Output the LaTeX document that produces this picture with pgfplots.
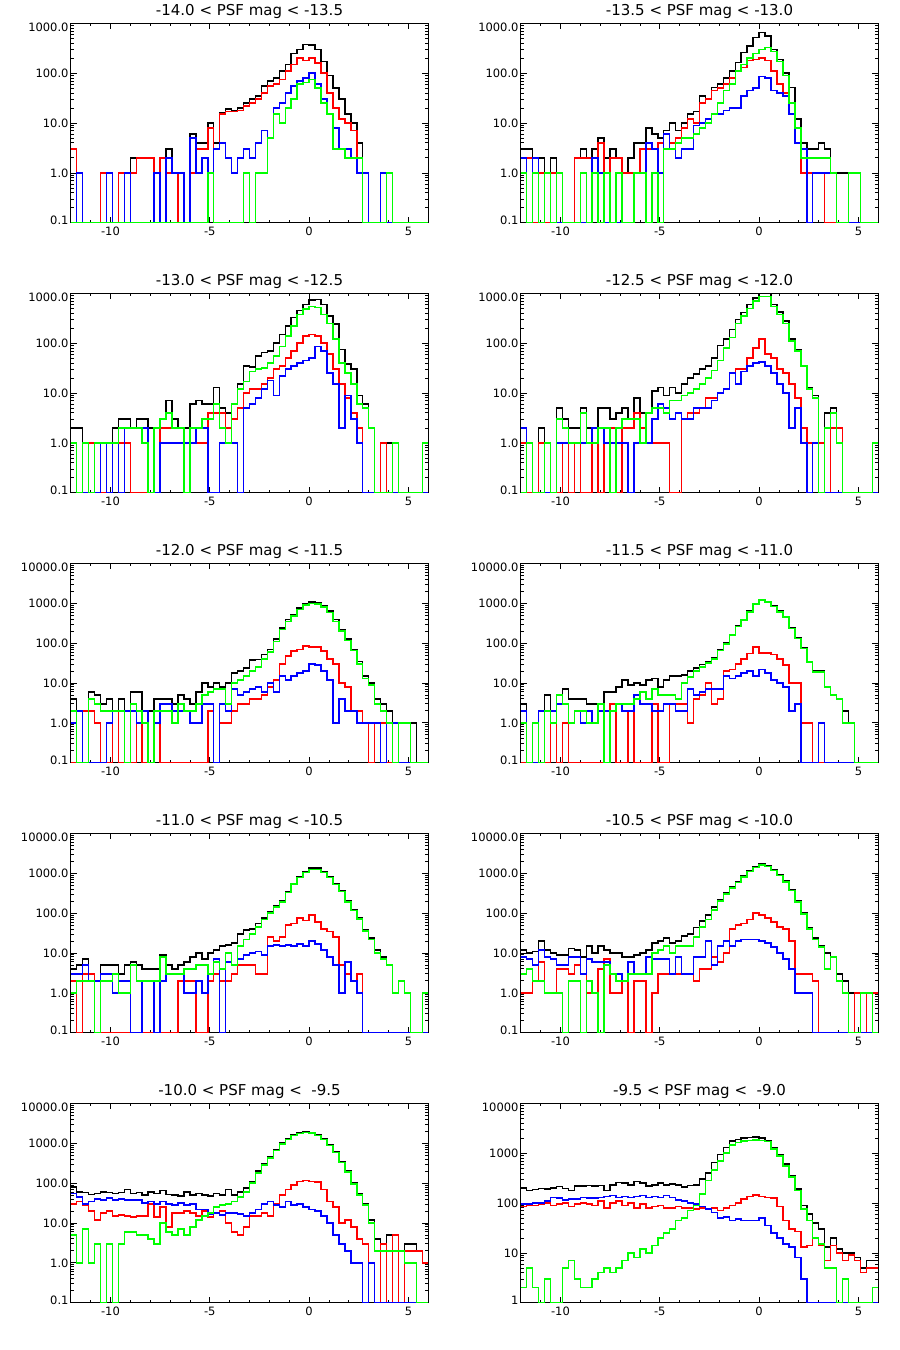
\documentclass[border=0pt]{standalone}
\usepackage{fontspec}
\setmainfont{DejaVu Sans}
\usepackage{pgfplots}
\usepackage{pgfplotstable}
\pgfplotsset{compat=1.18}
\definecolor{hred}{rgb}{1,0,0}
\definecolor{hblue}{rgb}{0,0,1}
\definecolor{hgreen}{rgb}{0,1,0}
\newcommand{\lowlab}[1]{\raisebox{2pt}[\height][\depth]{#1}}
\newcommand{\toplab}[1]{\raisebox{-4pt}[\height][\depth]{#1}}
\newcommand{\panel}[4]{%
\begin{axis}[scale only axis, width=357.6pt, height=199.4pt,
  xmin=-12, xmax=6, ymode=log, clip=false, anchor=north west,
  at={#2}, title={#3},
  xtick={-10,-5,0,5}, xticklabels={-10,-5,0,5},
  minor xtick={-12,-11,-9,-8,-7,-6,-4,-3,-2,-1,1,2,3,4,6},
  tick align=inside, tick pos=both,
  major tick length=6pt, minor tick length=3pt,
  axis line style={line width=0.9pt},
  tick style={black, line width=0.7pt},
  tick label style={font=\fontsize{11.5}{13}\selectfont},
  yticklabel style={inner sep=0pt, xshift=-2pt},
  xticklabel style={inner sep=0pt, yshift=-4pt},
  title style={font=\fontsize{15}{17}\selectfont, yshift=-5pt},
  #1]
\addplot[black, const plot mark left, mark=none, line width=1.5pt] table[x=x,y=k]{#4};
\addplot[hred, const plot mark left, mark=none, line width=1.5pt] table[x=x,y=r]{#4};
\addplot[hblue, const plot mark left, mark=none, line width=1.5pt] table[x=x,y=b]{#4};
\addplot[hgreen, const plot mark left, mark=none, line width=1.5pt] table[x=x,y=g]{#4};
\end{axis}}

\pgfplotstableread{
x k r b g
-12 3 3 0.1 0.1
-11.7 1 0.1 1 0.1
-11.4 0.1 0.1 0.1 0.1
-11.1 0.1 0.1 0.1 0.1
-10.8 0.1 0.1 0.1 0.1
-10.5 1 1 0.1 0.1
-10.2 1 0.1 1 0.1
-9.9 0.1 0.1 0.1 0.1
-9.6 1 1 0.1 0.1
-9.3 1 1 1 0.1
-9 2 1 0.1 0.1
-8.7 2 2 0.1 0.1
-8.4 2 2 0.1 0.1
-8.1 2 2 0.1 0.1
-7.8 1 0.1 1 0.1
-7.5 2 2 0.1 0.1
-7.2 3 1 2 0.1
-6.9 1 1 1 0.1
-6.6 1 0.1 1 0.1
-6.3 0.1 0.1 0.1 0.1
-6 6 1 5 0.1
-5.7 4 3 1 0.1
-5.4 4 3 2 0.1
-5.1 10 8 1 1
-4.8 4 3 3 0.1
-4.5 16 15 4 0.1
-4.2 19 17 2 0.1
-3.9 18 17 1 0.1
-3.6 20 18 2 0.1
-3.3 25 22 3 1
-3 30 25 2 0.1
-2.7 35 30 4 1
-2.4 55 40 7 1
-2.1 70 55 5 5
-1.8 80 60 20 15
-1.5 110 75 25 10
-1.2 150 110 40 20
-0.9 250 150 55 30
-0.6 300 200 70 60
-0.3 380 180 80 65
0 370 200 100 75
0.3 300 160 60 50
0.6 170 100 30 25
0.9 90 40 15 15
1.2 50 20 8 3
1.5 30 12 3 3
1.8 15 10 3 2
2.1 10 7 2 2
2.4 4 2 1 2
2.7 1 0.1 1 0.1
3 0.1 0.1 0.1 0.1
3.3 0.1 0.1 0.1 0.1
3.6 1 0.1 1 0.1
3.9 1 0.1 0.1 1
4.2 0.1 0.1 0.1 0.1
4.5 0.1 0.1 0.1 0.1
4.8 0.1 0.1 0.1 0.1
5.1 0.1 0.1 0.1 0.1
5.4 0.1 0.1 0.1 0.1
5.7 0.1 0.1 0.1 0.1
6 0.1 0.1 0.1 0.1
}\tA

\pgfplotstableread{
x k r b g
-12 3 1 2 1
-11.7 3 2 0.1 0.1
-11.4 2 0.1 2 1
-11.1 2 1 0.1 0.1
-10.8 1 0.1 1 1
-10.5 2 1 0.1 0.1
-10.2 1 1 0.1 1
-9.9 0.1 0.1 0.1 0.1
-9.6 0.1 0.1 0.1 0.1
-9.3 2 2 0.1 0.1
-9 3 2 0.1 1
-8.7 2 2 0.1 0.1
-8.4 3 2 2 1
-8.1 5 4 1 0.1
-7.8 2 0.1 0.1 1
-7.5 3 2 0.1 0.1
-7.2 2 2 0.1 1
-6.9 1 1 0.1 0.1
-6.6 2 1 0.1 0.1
-6.3 4 1 1 1
-6 4 3 1 1
-5.7 8 3 4 0.1
-5.4 6 3 3 1
-5.1 5 4 1 0.1
-4.8 7 3 6 3
-4.5 10 4 3 3
-4.2 7 5 2 4
-3.9 10 8 3 5
-3.6 15 12 3 5
-3.3 17 10 9 6
-3 35 25 10 8
-2.7 30 30 12 10
-2.4 52 45 15 15
-2.1 60 50 15 25
-1.8 80 60 18 45
-1.5 110 80 20 60
-1.2 165 110 20 110
-0.9 260 130 35 150
-0.6 350 180 45 200
-0.3 520 190 50 250
0 650 200 85 300
0.3 560 180 80 330
0.6 300 110 45 270
0.9 190 60 40 170
1.2 100 40 35 90
1.5 52 15 15 25
1.8 12 8 4 8
2.1 4 1 3 2
2.4 3 1 0.1 2
2.7 3 1 1 2
3 4 1 1 2
3.3 3 0.1 1 2
3.6 1 0.1 1 1
3.9 1 0.1 0.1 0.1
4.2 1 0.1 0.1 0.1
4.5 1 0.1 0.1 1
4.8 1 0.1 0.1 1
5.1 0.1 0.1 0.1 0.1
5.4 0.1 0.1 0.1 0.1
5.7 0.1 0.1 0.1 0.1
6 0.1 0.1 0.1 0.1
}\tB

\pgfplotstableread{
x k r b g
-12 2 1 1 1
-11.7 2 0.1 0.1 0.1
-11.4 1 0.1 0.1 1
-11.1 1 1 0.1 0.1
-10.8 1 0.1 0.1 1
-10.5 1 0.1 1 1
-10.2 1 1 0.1 1
-9.9 2 1 1 1
-9.6 3 1 0.1 2
-9.3 3 1 2 2
-9 2 0.1 2 2
-8.7 3 0.1 2 2
-8.4 3 0.1 2 1
-8.1 2 0.1 0.1 0.1
-7.8 2 0.1 0.1 2
-7.5 3 2 1 3
-7.2 7 2 1 4
-6.9 3 2 1 2
-6.6 2 2 1 2
-6.3 2 0.1 1 0.1
-6 6 1 1 2
-5.7 7 1 2 2
-5.4 6 1 2 3
-5.1 6 4 0.1 3
-4.8 13 4 0.1 6
-4.5 5 4 1 2
-4.2 4 2 1 1
-3.9 6 3 1 6
-3.6 15 5 0.1 12
-3.3 35 10 5 17
-3 33 12 6 27
-2.7 55 12 8 30
-2.4 65 15 12 32
-2.1 70 20 18 40
-1.8 100 30 9 55
-1.5 150 35 22 85
-1.2 220 50 30 140
-0.9 330 70 35 220
-0.6 450 100 40 380
-0.3 600 140 45 480
0 740 150 50 550
0.3 760 140 85 520
0.6 600 100 70 380
0.9 350 60 25 250
1.2 240 30 15 120
1.5 75 15 2 40
1.8 38 8 9 25
2.1 30 4 3 15
2.4 9 2 1 6
2.7 6 0.1 0.1 5
3 2 0.1 0.1 2
3.3 0.1 0.1 0.1 0.1
3.6 1 1 0.1 0.1
3.9 1 0.1 0.1 0.1
4.2 1 0.1 0.1 1
4.5 0.1 0.1 0.1 0.1
4.8 0.1 0.1 0.1 0.1
5.1 0.1 0.1 0.1 0.1
5.4 0.1 0.1 0.1 0.1
5.7 1 0.1 0.1 1
6 1 0.1 0.1 1
}\tC

\pgfplotstableread{
x k r b g
-12 2 1 2 0.1
-11.7 1 0.1 1 1
-11.4 0.1 0.1 0.1 0.1
-11.1 2 1 0.1 0.1
-10.8 1 1 0.1 1
-10.5 0.1 0.1 0.1 0.1
-10.2 5 0.1 1 3
-9.9 3 1 1 2
-9.6 2 0.1 1 1
-9.3 2 1 1 1
-9 5 0.1 1 4
-8.7 2 0.1 1 1
-8.4 2 1 2 1
-8.1 5 0.1 2 2
-7.8 5 1 1 2
-7.5 3 2 1 0.1
-7.2 4 0.1 1 2
-6.9 5 2 1 3
-6.6 3 2 0.1 3
-6.3 8 4 1 3
-6 4 2 1 1
-5.7 4 1 1 4
-5.4 11 1 3 5
-5.1 13 1 6 5
-4.8 9 1 5 4
-4.5 13 0.1 3 7
-4.2 10 0.1 4 7
-3.9 15 3 3 9
-3.6 20 4 3 10
-3.3 24 4 5 12
-3 30 5 5 15
-2.7 35 8 5 20
-2.4 50 8 7 28
-2.1 90 10 10 45
-1.8 120 12 12 80
-1.5 190 25 25 130
-1.2 300 30 15 250
-0.9 410 30 27 350
-0.6 600 50 35 500
-0.3 800 80 40 700
0 980 120 42 870
0.3 980 60 35 870
0.6 600 50 25 550
0.9 420 30 15 380
1.2 280 25 10 250
1.5 120 15 2 110
1.8 75 8 5 70
2.1 36 2 1 35
2.4 13 1 0.1 12
2.7 9 1 1 8
3 1 1 0.1 0.1
3.3 4 0.1 0.1 2
3.6 5 2 0.1 4
3.9 2 2 0.1 1
4.2 0.1 0.1 0.1 0.1
4.5 0.1 0.1 0.1 0.1
4.8 0.1 0.1 0.1 0.1
5.1 0.1 0.1 0.1 0.1
5.4 0.1 0.1 0.1 0.1
5.7 1 0.1 0.1 1
6 1 0.1 0.1 1
}\tD

\pgfplotstableread{
x k r b g
-12 4 0.1 1 2
-11.7 2 2 2 0.1
-11.4 2 2 0.1 0.1
-11.1 6 2 0.1 4
-10.8 5 1 0.1 3
-10.5 3 0.1 0.1 2
-10.2 4 0.1 1 2
-9.9 2 2 2 2
-9.6 4 0.1 2 2
-9.3 2 2 2 0.1
-9 6 0.1 2 3
-8.7 6 2 1 2
-8.4 2 0.1 2 1
-8.1 2 0.1 0.1 0.1
-7.8 4 2 1 2
-7.5 4 0.1 3 2
-7.2 4 0.1 3 2
-6.9 3 0.1 2 1
-6.6 5 0.1 2 3
-6.3 4 0.1 2 2
-6 3 0.1 1 2
-5.7 6 0.1 1 3
-5.4 10 0.1 3 5
-5.1 8 2 3 6
-4.8 10 0.1 0.1 7
-4.5 8 1 3 7
-4.2 10 1 2 3
-3.9 18 2 7 10
-3.6 20 3 5 12
-3.3 24 3 6 15
-3 38 4 7 20
-2.7 39 4 8 25
-2.4 52 5 6 40
-2.1 70 8 10 60
-1.8 125 12 6 110
-1.5 240 30 15 220
-1.2 390 47 12 350
-0.9 520 63 15 480
-0.6 760 70 18 700
-0.3 980 85 20 900
0 1070 80 30 980
0.3 1050 80 28 950
0.6 850 63 20 800
0.9 630 40 12 580
1.2 390 30 1 350
1.5 220 10 4 200
1.8 125 8 2 115
2.1 70 2 2 65
2.4 35 2 1 30
2.7 15 1 1 13
3 10 0.1 1 9
3.3 4 1 1 3
3.6 3 1 0.1 2
3.9 2 0.1 1 1
4.2 1 0.1 1 0.1
4.5 1 0.1 0.1 1
4.8 1 0.1 0.1 1
5.1 1 0.1 0.1 0.1
5.4 0.1 0.1 0.1 0.1
5.7 0.1 0.1 0.1 0.1
6 0.1 0.1 0.1 0.1
}\tE

\pgfplotstableread{
x k r b g
-12 3 0.1 2 1
-11.7 0.1 0.1 0.1 0.1
-11.4 1 0.1 0.1 1
-11.1 2 0.1 2 0.1
-10.8 5 0.1 2 2
-10.5 2 1 2 1
-10.2 5 0.1 3 5
-9.9 7 1 3 3
-9.6 4 0.1 1 1
-9.3 4 0.1 2 2
-9 4 0.1 1 2
-8.7 3 0.1 2 1
-8.4 3 0.1 1 1
-8.1 3 0.1 2 3
-7.8 6 0.1 2 0.1
-7.5 6 3 2 2
-7.2 8 0.1 3 3
-6.9 12 0.1 2 3
-6.6 9 2 2 3
-6.3 10 0.1 5 4
-6 9 0.1 3 6
-5.7 12 0.1 3 4
-5.4 13 3 2 7
-5.1 8 0.1 2 5
-4.8 12 0.1 3 5
-4.5 15 3 3 5
-4.2 15 3 2 4
-3.9 16 3 2 10
-3.6 20 1 7 14
-3.3 24 4 5 20
-3 29 5 6 25
-2.7 35 10 7 32
-2.4 43 3 7 40
-2.1 70 4 7 65
-1.8 100 20 15 95
-1.5 165 22 13 160
-1.2 270 30 15 260
-0.9 390 40 18 380
-0.6 630 55 20 610
-0.3 980 80 15 950
0 1230 57 22 1200
0.3 1100 57 18 1080
0.6 850 52 12 830
0.9 630 40 10 610
1.2 460 28 8 450
1.5 240 10 2 235
1.8 135 10 3 130
2.1 76 1 0.1 74
2.4 35 1 0.1 34
2.7 20 0.1 0.1 19
3 20 0.1 1 19
3.3 8 0.1 0.1 8
3.6 5 0.1 0.1 5
3.9 4 0.1 0.1 4
4.2 2 0.1 0.1 1
4.5 1 0.1 0.1 1
4.8 0.1 0.1 0.1 0.1
5.1 0.1 0.1 0.1 0.1
5.4 0.1 0.1 0.1 0.1
5.7 0.1 0.1 0.1 0.1
6 0.1 0.1 0.1 0.1
}\tF

\pgfplotstableread{
x k r b g
-12 4 2 3 1
-11.7 5 0.1 3 2
-11.4 7 3 5 2
-11.1 3 3 2 2
-10.8 2 0.1 2 0.1
-10.5 5 0.1 3 2
-10.2 5 0.1 3 2
-9.9 5 0.1 1 3
-9.6 3 0.1 2 1
-9.3 5 0.1 2 1
-9 6 0.1 0.1 5
-8.7 5 0.1 0.1 2
-8.4 4 0.1 2 2
-8.1 4 0.1 2 2
-7.8 4 0.1 0.1 2
-7.5 9 0.1 2 8
-7.2 5 0.1 3 3
-6.9 4 0.1 3 3
-6.6 5 2 3 3
-6.3 6 2 1 4
-6 8 2 1 4
-5.7 10 0.1 2 5
-5.4 7 0.1 1 5
-5.1 10 2 3 3
-4.8 12 3 7 6
-4.5 15 2 0.1 4
-4.2 16 2 6 10
-3.9 18 3 5 5
-3.6 30 5 7 15
-3.3 38 5 9 22
-3 40 5 10 30
-2.7 55 3 11 45
-2.4 75 3 9 70
-2.1 110 25 15 100
-1.8 150 20 16 140
-1.5 200 25 15 190
-1.2 350 50 16 330
-0.9 550 55 15 530
-0.6 800 75 17 780
-0.3 1100 65 15 1050
0 1350 90 20 1250
0.3 1350 60 17 1250
0.6 1100 40 12 1050
0.9 800 35 8 780
1.2 550 25 5 520
1.5 370 5 1 350
1.8 200 3 6 190
2.1 120 2 2 115
2.4 75 3 1 72
2.7 38 0.1 0.1 36
3 24 0.1 0.1 22
3.3 12 0.1 0.1 10
3.6 8 0.1 0.1 7
3.9 5 0.1 0.1 5
4.2 1 0.1 0.1 1
4.5 2 0.1 0.1 2
4.8 1 0.1 0.1 1
5.1 0.1 0.1 0.1 0.1
5.4 0.1 0.1 0.1 0.1
5.7 1 0.1 0.1 1
6 1 0.1 0.1 1
}\tG

\pgfplotstableread{
x k r b g
-12 12 1 8 3
-11.7 10 1 7 4
-11.4 11 2 5 2
-11.1 20 6 12 2
-10.8 12 1 8 1
-10.5 10 1 7 1
-10.2 9 4 5 1
-9.9 9 4 5 0.1
-9.6 13 3 8 2
-9.3 12 5 8 2
-9 8 3 3 0.1
-8.7 15 1 7 2
-8.4 10 1 6 1
-8.1 15 4 6 0.1
-7.8 12 7 6 5
-7.5 10 1 3 3
-7.2 10 1 3 2
-6.9 8 2 2 2
-6.6 8 0.1 6 3
-6.3 9 2 3 3
-6 10 2 3 3
-5.7 12 0.1 8 3
-5.4 18 1 7 10
-5.1 20 3 7 12
-4.8 24 3 7 15
-4.5 18 3 3 10
-4.2 20 3 8 15
-3.9 27 3 3 15
-3.6 30 3 3 15
-3.3 43 2 8 25
-3 63 4 8 45
-2.7 90 4 20 70
-2.4 140 8 5 120
-2.1 220 6 15 200
-1.8 320 10 20 300
-1.5 450 40 15 420
-1.2 620 50 20 590
-0.9 850 55 22 810
-0.6 1150 70 22 1100
-0.3 1450 100 22 1400
0 1700 90 20 1600
0.3 1550 75 18 1470
0.6 1230 60 14 1170
0.9 930 45 10 880
1.2 630 40 7 600
1.5 390 20 4 370
1.8 200 3 1 190
2.1 100 3 1 95
2.4 43 3 1 40
2.7 24 2 0.1 22
3 15 0.1 0.1 14
3.3 10 0.1 0.1 4
3.6 8 0.1 0.1 8
3.9 3 0.1 0.1 2
4.2 2 0.1 0.1 1
4.5 1 0.1 0.1 0.1
4.8 1 1 0.1 0.1
5.1 1 0.1 0.1 1
5.4 1 1 0.1 1
5.7 1 1 0.1 0.1
6 1 1 0.1 0.1
}\tH

\pgfplotstableread{
x k r b g
-12 80 30 55 5
-11.7 60 35 45 1
-11.4 58 28 30 7
-11.1 52 20 35 1
-10.8 55 12 40 3
-10.5 60 18 38 0.1
-10.2 58 20 42 3
-9.9 55 15 38 0.1
-9.6 58 16 40 3
-9.3 70 15 38 6
-9 55 14 38 6
-8.7 58 15 38 5
-8.4 50 15 32 5
-8.1 60 30 35 4
-7.8 55 14 30 3
-7.5 65 25 35 10
-7.2 52 8 30 6
-6.9 50 18 28 5
-6.6 48 18 32 7
-6.3 60 20 28 5
-6 50 18 30 8
-5.7 55 15 22 12
-5.4 50 20 22 15
-5.1 48 14 17 18
-4.8 55 18 18 25
-4.5 50 20 16 28
-4.2 70 10 18 30
-3.9 50 6 18 35
-3.6 60 5 17 45
-3.3 75 8 15 60
-3 110 15 18 100
-2.7 200 15 22 180
-2.4 300 18 30 280
-2.1 450 15 35 420
-1.8 700 30 28 660
-1.5 1000 50 25 960
-1.2 1300 70 35 1250
-0.9 1600 90 28 1550
-0.6 1800 110 30 1750
-0.3 1900 115 25 1850
0 1850 110 22 1800
0.3 1600 105 20 1550
0.6 1300 70 15 1250
0.9 900 35 10 870
1.2 600 25 5 580
1.5 350 10 3 330
1.8 200 12 2 190
2.1 100 8 1 95
2.4 55 4 1 50
2.7 30 3 0.1 28
3 12 1 1 10
3.3 4 0.1 0.1 2
3.6 3 3 0.1 2
3.9 5 0.1 0.1 2
4.2 5 5 0.1 2
4.5 2 0.1 0.1 2
4.8 3 2 0.1 1
5.1 3 2 0.1 1
5.4 2 2 0.1 0.1
5.7 1 1 0.1 0.1
6 1 1 0.1 0.1
}\tI

\pgfplotstableread{
x k r b g
-12 200 85 95 2
-11.7 180 90 95 5
-11.4 185 90 100 2
-11.1 195 95 100 1
-10.8 190 100 110 3
-10.5 200 90 130 1
-10.2 215 95 125 1
-9.9 195 100 115 5
-9.6 180 85 120 7
-9.3 220 95 120 3
-9 220 100 130 2
-8.7 225 95 125 2
-8.4 220 90 125 3
-8.1 225 110 130 4
-7.8 180 80 135 5
-7.5 230 100 140 4
-7.2 260 110 130 5
-6.9 250 90 135 7
-6.6 230 100 130 10
-6.3 270 80 135 8
-6 250 95 140 12
-5.7 220 80 130 10
-5.4 230 85 135 14
-5.1 250 90 130 20
-4.8 230 80 140 25
-4.5 240 80 130 30
-4.2 230 85 115 45
-3.9 210 80 110 50
-3.6 225 80 100 70
-3.3 230 75 95 90
-3 300 80 85 150
-2.7 400 75 75 280
-2.4 650 80 65 460
-2.1 950 70 50 700
-1.8 1300 80 52 1000
-1.5 1750 90 45 1450
-1.2 1900 100 48 1650
-0.9 2000 120 45 1750
-0.6 2050 135 45 1800
-0.3 2100 145 45 1850
0 2000 135 50 1800
0.3 1750 130 35 1700
0.6 1300 125 25 1200
0.9 930 85 20 870
1.2 600 45 15 550
1.5 350 30 13 330
1.8 190 27 8 180
2.1 90 13 3 75
2.4 60 14 1 45
2.7 40 20 1 20
3 30 14 1 15
3.3 13 7 1 5
3.6 20 14 1 5
3.9 12 10 1 1
4.2 10 7 1 3
4.5 10 9 1 1
4.8 8 7 1 1
5.1 5 4 1 1
5.4 7 5 1 1
5.7 7 5 1 2
6 7 5 1 2
}\tJ

\begin{document}
\begin{tikzpicture}
\useasboundingbox (0,0) rectangle (900pt,-1350pt);
\panel{ymin=0.1, ymax=1000, ytick={0.1,1,10,100,1000},
  yticklabels={{\lowlab{0.1}},{1.0},{10.0},{100.0},{\toplab{1000.0}}},
  minor ytick={0.2,0.3,0.4,0.5,0.6,0.7,0.8,0.9,2,3,4,5,6,7,8,9,20,30,40,50,60,70,80,90,200,300,400,500,600,700,800,900}}
  {(70.7pt,-23.3pt)}{-14.0 < PSF mag < -13.5}{\tA}
\panel{ymin=0.1, ymax=1000, ytick={0.1,1,10,100,1000},
  yticklabels={{\lowlab{0.1}},{1.0},{10.0},{100.0},{\toplab{1000.0}}},
  minor ytick={0.2,0.3,0.4,0.5,0.6,0.7,0.8,0.9,2,3,4,5,6,7,8,9,20,30,40,50,60,70,80,90,200,300,400,500,600,700,800,900}}
  {(520.7pt,-23.3pt)}{-13.5 < PSF mag < -13.0}{\tB}
\panel{ymin=0.1, ymax=1000, ytick={0.1,1,10,100,1000},
  yticklabels={{\lowlab{0.1}},{1.0},{10.0},{100.0},{\toplab{1000.0}}},
  minor ytick={0.2,0.3,0.4,0.5,0.6,0.7,0.8,0.9,2,3,4,5,6,7,8,9,20,30,40,50,60,70,80,90,200,300,400,500,600,700,800,900}}
  {(70.7pt,-293.3pt)}{-13.0 < PSF mag < -12.5}{\tC}
\panel{ymin=0.1, ymax=1000, ytick={0.1,1,10,100,1000},
  yticklabels={{\lowlab{0.1}},{1.0},{10.0},{100.0},{\toplab{1000.0}}},
  minor ytick={0.2,0.3,0.4,0.5,0.6,0.7,0.8,0.9,2,3,4,5,6,7,8,9,20,30,40,50,60,70,80,90,200,300,400,500,600,700,800,900}}
  {(520.7pt,-293.3pt)}{-12.5 < PSF mag < -12.0}{\tD}
\panel{ymin=0.1, ymax=10000, ytick={0.1,1,10,100,1000,10000},
  yticklabels={{\lowlab{0.1}},{1.0},{10.0},{100.0},{1000.0},{\toplab{10000.0}}},
  minor ytick={0.2,0.3,0.4,0.5,0.6,0.7,0.8,0.9,2,3,4,5,6,7,8,9,20,30,40,50,60,70,80,90,200,300,400,500,600,700,800,900,2000,3000,4000,5000,6000,7000,8000,9000}}
  {(70.7pt,-563.3pt)}{-12.0 < PSF mag < -11.5}{\tE}
\panel{ymin=0.1, ymax=10000, ytick={0.1,1,10,100,1000,10000},
  yticklabels={{\lowlab{0.1}},{1.0},{10.0},{100.0},{1000.0},{\toplab{10000.0}}},
  minor ytick={0.2,0.3,0.4,0.5,0.6,0.7,0.8,0.9,2,3,4,5,6,7,8,9,20,30,40,50,60,70,80,90,200,300,400,500,600,700,800,900,2000,3000,4000,5000,6000,7000,8000,9000}}
  {(520.7pt,-563.3pt)}{-11.5 < PSF mag < -11.0}{\tF}
\panel{ymin=0.1, ymax=10000, ytick={0.1,1,10,100,1000,10000},
  yticklabels={{\lowlab{0.1}},{1.0},{10.0},{100.0},{1000.0},{\toplab{10000.0}}},
  minor ytick={0.2,0.3,0.4,0.5,0.6,0.7,0.8,0.9,2,3,4,5,6,7,8,9,20,30,40,50,60,70,80,90,200,300,400,500,600,700,800,900,2000,3000,4000,5000,6000,7000,8000,9000}}
  {(70.7pt,-833.3pt)}{-11.0 < PSF mag < -10.5}{\tG}
\panel{ymin=0.1, ymax=10000, ytick={0.1,1,10,100,1000,10000},
  yticklabels={{\lowlab{0.1}},{1.0},{10.0},{100.0},{1000.0},{\toplab{10000.0}}},
  minor ytick={0.2,0.3,0.4,0.5,0.6,0.7,0.8,0.9,2,3,4,5,6,7,8,9,20,30,40,50,60,70,80,90,200,300,400,500,600,700,800,900,2000,3000,4000,5000,6000,7000,8000,9000}}
  {(520.7pt,-833.3pt)}{-10.5 < PSF mag < -10.0}{\tH}
\panel{ymin=0.1, ymax=10000, ytick={0.1,1,10,100,1000,10000},
  yticklabels={{\lowlab{0.1}},{1.0},{10.0},{100.0},{1000.0},{\toplab{10000.0}}},
  minor ytick={0.2,0.3,0.4,0.5,0.6,0.7,0.8,0.9,2,3,4,5,6,7,8,9,20,30,40,50,60,70,80,90,200,300,400,500,600,700,800,900,2000,3000,4000,5000,6000,7000,8000,9000}}
  {(70.7pt,-1103.3pt)}{-10.0 < PSF mag <~~-9.5}{\tI}
\panel{ymin=1, ymax=10000, ytick={1,10,100,1000,10000},
  yticklabels={{\lowlab{1}},{10},{100},{1000},{\toplab{10000}}},
  minor ytick={2,3,4,5,6,7,8,9,20,30,40,50,60,70,80,90,200,300,400,500,600,700,800,900,2000,3000,4000,5000,6000,7000,8000,9000}}
  {(520.7pt,-1103.3pt)}{-9.5 < PSF mag <~~-9.0}{\tJ}
\end{tikzpicture}
\end{document}
